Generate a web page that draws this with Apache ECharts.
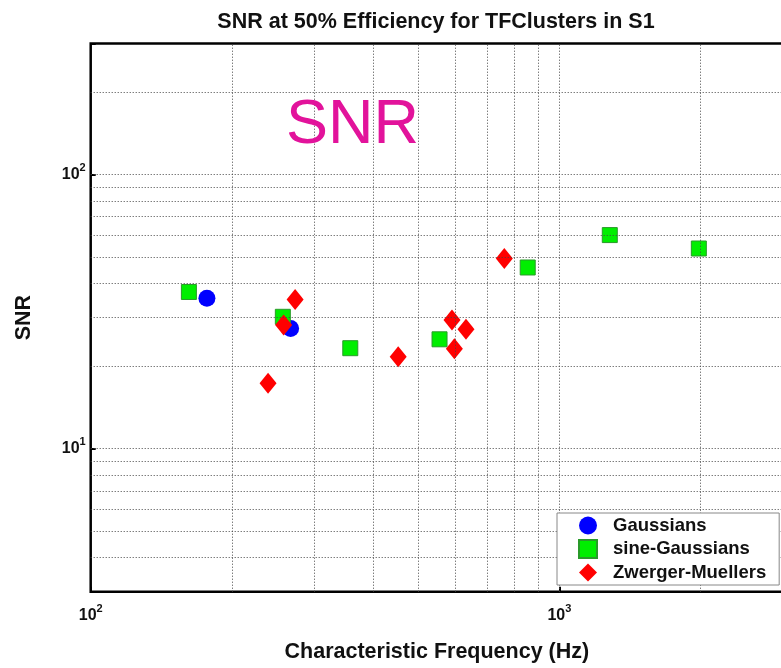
<!DOCTYPE html>
<html>
<head>
<meta charset="utf-8">
<script src="https://cdn.jsdelivr.net/npm/echarts@6/dist/echarts.min.js"></script>
<style>
  html, body { margin: 0; padding: 0; background: #fff; overflow: hidden; }
  #chart { width: 786px; height: 668px; }
</style>
</head>
<body>
<div id="chart"></div>
<script>
// frequency (Hz), SNR pairs
var gaussians = [[177, 35.3], [267, 27.4]];
var sineGaussians = [[162, 37.2], [257, 30.2], [358, 23.2], [555, 25.0], [856, 45.7], [1281, 60.0], [1984, 53.6]];
var zwergerMuellers = [[239, 17.3], [258, 28.2], [273, 34.9], [453, 21.6], [590, 29.4], [632, 27.2], [597, 23.1], [763, 49.3]];

var seriesNames = ['Gaussians', 'sine-Gaussians', 'Zwerger-Muellers'];
var xGridValues = [200, 300, 400, 500, 600, 700, 800, 900, 1000, 2000];
var yGridValues = [4, 5, 6, 7, 8, 9, 10, 20, 30, 40, 50, 60, 70, 80, 90, 100, 200];

var font = 'Liberation Sans, Arial, Helvetica, sans-serif';

var chart = echarts.init(document.getElementById('chart'));

function powLabel(v) {
    var e = Math.log10(v);
    if (Math.abs(e - Math.round(e)) < 1e-6) {
        return '{a|10}{b|' + Math.round(e) + '}';
    }
    return '';
}
var labelRich = {
    a: { fontSize: 16, fontWeight: 'bold', color: '#111', fontFamily: font },
    b: { fontSize: 11, fontWeight: 'bold', color: '#111', fontFamily: font, padding: [0, 0, 12, 0] }
};

var gridLines = xGridValues.map(function (v) { return { xAxis: v }; })
    .concat(yGridValues.map(function (v) { return { yAxis: v }; }));

var option = {
    animation: false,
    backgroundColor: '#fff',
    title: {
        text: 'SNR at 50% Efficiency for TFClusters in S1',
        left: 431,
        textAlign: 'center',
        top: 6,
        textStyle: { fontSize: 21.5, fontWeight: 'bold', color: '#111', fontFamily: font }
    },
    graphic: [{
        type: 'text',
        left: 286,
        top: 94,
        z: 10,
        style: { text: 'SNR', fontSize: 63, fill: '#e2139b', fontFamily: font }
    }],
    grid: {
        left: 90.7, top: 43.5, bottom: 76.3, right: 0.6,
        show: true, borderColor: '#000', borderWidth: 2.5
    },
    legend: {
        orient: 'vertical',
        left: 557,
        top: 513,
        data: seriesNames,
        padding: [3, 13, 3, 21],
        itemGap: 4,
        itemWidth: 18,
        itemHeight: 18,
        backgroundColor: '#fff',
        borderColor: '#888',
        borderWidth: 1,
        z: 20,
        textStyle: { fontSize: 18.5, fontWeight: 'bold', color: '#111', fontFamily: font, padding: [0, 0, 0, 11] }
    },
    xAxis: {
        type: 'log',
        logBase: 10,
        min: 100,
        max: 3000,
        name: 'Characteristic Frequency (Hz)',
        nameLocation: 'middle',
        nameGap: 49,
        nameTextStyle: { fontSize: 21.5, fontWeight: 'bold', color: '#111', fontFamily: font },
        axisLine: { show: false },
        axisTick: { show: true, inside: true, length: 5, lineStyle: { color: '#000', width: 2 } },
        axisLabel: { formatter: powLabel, rich: labelRich, margin: 12, showMinLabel: true },
        splitLine: { show: false }
    },
    yAxis: {
        type: 'log',
        logBase: 10,
        min: 3,
        max: 300,
        name: 'SNR',
        nameLocation: 'middle',
        nameGap: 56,
        nameTextStyle: { fontSize: 21.5, fontWeight: 'bold', color: '#111', fontFamily: font },
        axisLine: { show: false },
        axisTick: { show: true, inside: true, length: 5, lineStyle: { color: '#000', width: 2 } },
        axisLabel: { formatter: powLabel, rich: labelRich, margin: 5 },
        splitLine: { show: false }
    },
    series: [
        {
            name: 'grid',
            type: 'scatter',
            data: [],
            z: 1,
            silent: true,
            markLine: {
                silent: true,
                symbol: ['none', 'none'],
                label: { show: false },
                lineStyle: { type: [1, 2], color: '#444', width: 1 },
                emphasis: { disabled: true },
                data: gridLines
            }
        },
        {
            name: seriesNames[0],
            type: 'scatter',
            z: 3,
            symbol: 'circle',
            symbolSize: 17,
            itemStyle: { color: '#0000ff', opacity: 1 },
            data: gaussians
        },
        {
            name: seriesNames[1],
            type: 'scatter',
            z: 3,
            symbol: 'rect',
            symbolSize: 15,
            itemStyle: { color: '#00ee00', borderColor: '#2a9a2a', borderWidth: 1, opacity: 1 },
            data: sineGaussians
        },
        {
            name: seriesNames[2],
            type: 'scatter',
            z: 4,
            symbol: 'diamond',
            symbolSize: [17, 21],
            itemStyle: { color: '#ff0000', opacity: 1 },
            data: zwergerMuellers
        }
    ]
};

chart.setOption(option);
window.addEventListener('resize', function () {
    chart.resize();
});
</script>
</body>
</html>
